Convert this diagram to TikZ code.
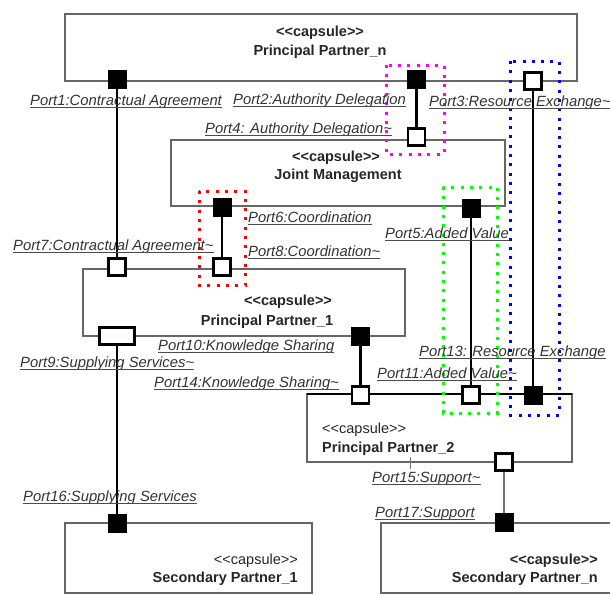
\documentclass[tikz,border=0pt]{standalone}
\usepackage{fontspec}
\newfontfamily\arialf{Liberation Sans}
\definecolor{grpmagenta}{RGB}{255,0,255}
\definecolor{grpblue}{RGB}{0,0,255}
\definecolor{grpgreen}{RGB}{0,255,0}
\definecolor{grpred}{RGB}{255,0,0}
\begin{document}
\begin{tikzpicture}[x=1pt,y=-1pt,
  capsule/.style={draw=black!60, line width=1.3pt},
  portblk/.style={draw=black, fill=black, line width=1pt, minimum width=18pt, minimum height=18pt, inner sep=0pt},
  portwht/.style={draw=black, fill=white, line width=2.2pt, minimum width=17pt, minimum height=17pt, inner sep=0pt},
  link/.style={line width=2.6pt, black},
  sublink/.style={line width=2pt, black!55},
  lbl/.style={font=\arialf\fontsize{14.8}{16}\selectfont\itshape, text=black!80, anchor=base west, inner sep=0pt},
  ul/.style={draw=black!70, line width=0.9pt},
  ttl/.style={font=\arialf\fontsize{14.5}{16}\selectfont\bfseries, text=black!85, inner sep=0pt},
  ttlr/.style={font=\arialf\fontsize{14.5}{16}\selectfont, text=black!85, inner sep=0pt},
  grp/.style={line width=3pt, dash pattern=on 3pt off 6.3pt}
]
\useasboundingbox (0,0) rectangle (610,595);
\newcommand{\portlabel}[3]{%
  \node[lbl] (#1) at (#2) {#3};
  \draw[ul] ([yshift=-2.5pt]#1.base west) -- ([yshift=-2.5pt]#1.base east);}

% capsule boxes
\draw[capsule] (65,14) rectangle (577,81);
\draw[capsule] (171,140) rectangle (505,206);
\draw[capsule] (83,269) rectangle (405,336);
\draw[capsule] (307,394) rectangle (572,462);
\draw[black, line width=2pt] (307,394) -- (572,394);
\draw[capsule] (65,523) rectangle (312,593);
\draw[capsule] (381,523) rectangle (616,593);

% capsule titles
\node[ttl, anchor=base] (tn1) at (320,36.5) {<{}<capsule>{}>};
\node[ttl, anchor=base] (tn2) at (320,55.5) {Principal Partner\_n};
\node[ttl, anchor=base] (tj1) at (336,161.5) {<{}<capsule>{}>};
\node[ttl, anchor=base] (tj2) at (338,179.5) {Joint Management};
\node[ttl, anchor=base] (ta1) at (288,305.5) {<{}<capsule>{}>};
\node[ttl, anchor=base] (ta2) at (267,325.5) {Principal Partner\_1};
\node[ttlr, anchor=base west] (tb1) at (322,433) {<{}<capsule>{}>};
\node[ttl, anchor=base west] (tb2) at (322,452) {Principal Partner\_2};
\node[ttlr, anchor=base east] (ts1) at (298,564) {<{}<capsule>{}>};
\node[ttl, anchor=base east] (ts2) at (298,582) {Secondary Partner\_1};
\node[ttl, anchor=base east] (tt1) at (598,564) {<{}<capsule>{}>};
\node[ttl, anchor=base east] (tt2) at (598,582) {Secondary Partner\_n};

% dotted groupings
\draw[grp, draw=grpmagenta] (386,65) rectangle (444,154);
\draw[grp, draw=grpblue] (510,61) rectangle (559,415);
\draw[grp, draw=grpgreen] (443,187) rectangle (497,413);
\draw[grp, draw=grpred] (199,191) rectangle (245,285);

% ports
\node[portblk] (p1) at (117,79) {};
\node[portblk] (p2) at (416.5,79) {};
\node[portwht] (p3) at (533,81) {};
\node[portwht] (p4) at (416.5,137) {};
\node[portblk] (p5) at (471,208) {};
\node[portblk] (p6) at (222,207) {};
\node[portwht] (p7) at (117,267) {};
\node[portwht] (p8) at (222,267) {};
\node[portwht, minimum width=35pt] (p9) at (117,336) {};
\node[portblk] (p10) at (360.5,336) {};
\node[portwht] (p11) at (471,395) {};
\node[portblk] (p13) at (533,395) {};
\node[portwht] (p14) at (360.5,395) {};
\node[portwht] (p15) at (504,462) {};
\node[portblk] (p16) at (117,523) {};
\node[portblk] (p17) at (504,522) {};

% connectors
\draw[link] (p1) -- (p7);
\draw[link] (p2) -- (p4);
\draw[link] (p3) -- (p13);
\draw[link] (p6) -- (p8);
\draw[link] (p5) -- (p11);
\draw[link] (p10) -- (p14);
\draw[link] (p9) -- (p16);
\draw[sublink] (p15) -- (p17);

% port labels
\portlabel{l1}{30,105}{Port1:Contractual Agreement}
\portlabel{l2}{233,104}{Port2:Authority Delegation}
\portlabel{l3}{429,106}{Port3:Resource Exchange\textasciitilde}
\portlabel{l4}{205,133}{Port4: Authority Delegation\textasciitilde}
\portlabel{l5}{385,238}{Port5:Added Value}
\portlabel{l6}{248,222}{Port6:Coordination}
\portlabel{l7}{13,250}{Port7:Contractual Agreement\textasciitilde}
\portlabel{l8}{248,256}{Port8:Coordination\textasciitilde}
\portlabel{l9}{20,367}{Port9:Supplying Services\textasciitilde}
\portlabel{l10}{158,350}{Port10:Knowledge Sharing}
\portlabel{l11}{377,378}{Port11:Added Value\textasciitilde}
\portlabel{l13}{419,356}{Port13: Resource Exchange}
\portlabel{l14}{154,387}{Port14:Knowledge Sharing\textasciitilde}
\portlabel{l15}{372,482}{Port15:Support\textasciitilde}
\portlabel{l16}{23,501}{Port16:Supplying Services}
\portlabel{l17}{375,517}{Port17:Support}

% small tick above the Port15 label
\draw[black!55, line width=1pt] (410,457) -- (410,469);
\end{tikzpicture}
\end{document}
